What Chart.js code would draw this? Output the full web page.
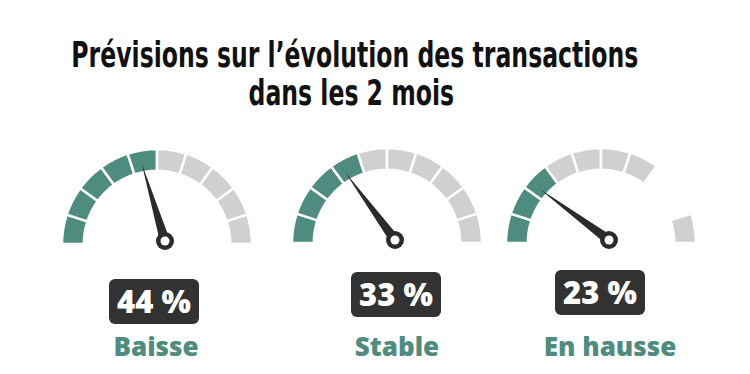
<!DOCTYPE html>
<html>
<head>
<meta charset="utf-8">
<script src="https://cdn.jsdelivr.net/npm/chart.js@4.4.1/dist/chart.umd.min.js"></script>
<style>
  html, body { margin:0; padding:0; background:#fff; }
  body { width:750px; height:374px; position:relative; overflow:hidden; }
  .title { position:absolute; left:-24px; width:750px; text-align:center; color:#111;
           font-family:"Liberation Sans Narrow","DejaVu Sans Condensed","DejaVu Sans",sans-serif;
           font-stretch:condensed; font-weight:bold; font-size:35px; line-height:35px; white-space:nowrap; }
  .title span { display:inline-block; transform-origin:center center; }
  .gauge { position:absolute; width:200px; height:120px; }
  .box { position:absolute; background:#323232; color:#fff; border-radius:6px; text-align:center;
         font-family:"Open Sans",sans-serif; font-weight:800; font-size:31px; }
  .lbl { position:absolute; color:#4d8c7f; text-align:center; white-space:nowrap;
         font-family:"Open Sans",sans-serif; font-weight:800; font-size:26px; }
</style>
</head>
<body>
<div class="title" id="t1" style="top:38px"><span></span></div>
<div class="title" id="t2" style="top:76px"><span></span></div>
<script>
// ---- data ----
const titleLines = ["Prévisions sur l’évolution des transactions", "dans les 2 mois"];
const categories = ["Baisse", "Stable", "En hausse"];
const percentages = [44, 33, 23];
const segments = [1, 1, 1, 1, 1, 1, 1, 1, 1, 1];
const blankSegments = [[], [], [7, 8]];

// ---- layout / style ----
const gaugeCenters = [[157, 244], [387, 243], [601, 243]];
const boxLayout = [[154, 279], [396, 272], [600, 270]];
const labelLayout = [[156, 328], [397, 328], [610, 328]];
const TEAL = "#4e8c7f", GREY = "#d0d0d0", DARK = "#2b2b2b";

document.querySelector("#t1 span").textContent = titleLines[0];
document.querySelector("#t2 span").textContent = titleLines[1];
const s1 = document.querySelector("#t1 span");
const s2 = document.querySelector("#t2 span");
const scale = 567 / s1.getBoundingClientRect().width;
s1.style.transform = "scaleX(" + scale + ")";
s2.style.transform = "scaleX(" + scale + ")";

const needlePlugin = {
  id: "needle",
  afterDatasetsDraw(chart, args, opts) {
    const meta = chart.getDatasetMeta(0);
    const first = meta.data[0], last = meta.data[meta.data.length - 1];
    const p0 = first.getProps(["x", "y", "startAngle", "outerRadius", "innerRadius"], true);
    const pl = last.getProps(["endAngle"], true);
    const ang = p0.startAngle + (opts.value / 100) * (pl.endAngle - p0.startAngle);
    const tipR = p0.innerRadius + 9;
    const tx = p0.x + Math.cos(ang) * tipR, ty = p0.y + Math.sin(ang) * tipR;
    const px = p0.x + opts.dx, py = p0.y + opts.dy;
    const ddx = tx - px, ddy = ty - py, len = Math.hypot(ddx, ddy);
    const nx = -ddy / len, ny = ddx / len, hw = 5;
    const ctx = chart.ctx;
    ctx.save();
    ctx.fillStyle = DARK;
    ctx.beginPath();
    ctx.moveTo(tx, ty);
    ctx.lineTo(px + nx * hw, py + ny * hw);
    ctx.lineTo(px - nx * hw, py - ny * hw);
    ctx.closePath();
    ctx.fill();
    ctx.beginPath();
    ctx.arc(px, py, 9, 0, Math.PI * 2);
    ctx.fill();
    ctx.fillStyle = "#fff";
    ctx.beginPath();
    ctx.arc(px, py, 4.5, 0, Math.PI * 2);
    ctx.fill();
    ctx.restore();
  }
};

percentages.forEach((p, i) => {
  const [cx, cy] = gaugeCenters[i];
  const div = document.createElement("div");
  div.className = "gauge";
  div.style.left = (cx - 100) + "px";
  div.style.top = (cy - 100) + "px";
  const cv = document.createElement("canvas");
  div.appendChild(cv);
  document.body.appendChild(div);
  const filled = Math.ceil(p / 10);
  const colors = segments.map((s, k) =>
    blankSegments[i].includes(k) ? "rgba(0,0,0,0)" : (k < filled ? TEAL : GREY));
  new Chart(cv, {
    type: "doughnut",
    data: { labels: segments.map((s, k) => String(k)),
            datasets: [{ data: segments, backgroundColor: colors, borderColor: "#fff", borderWidth: 2.5 }] },
    options: {
      responsive: true, maintainAspectRatio: false, animation: false, events: [],
      rotation: -90, circumference: 180, radius: 95, cutout: "77%",
      layout: { padding: { left: 5, right: 5, top: 5, bottom: 20 } },
      plugins: { legend: { display: false }, tooltip: { enabled: false },
                 needle: { value: p, dx: 8, dy: -3 } }
    },
    plugins: [needlePlugin]
  });

  const box = document.createElement("div");
  box.className = "box";
  box.textContent = p + " %";
  box.style.left = (boxLayout[i][0] - 45) + "px";
  box.style.top = boxLayout[i][1] + "px";
  box.style.width = "90px";
  box.style.height = "45px";
  box.style.lineHeight = "45px";
  document.body.appendChild(box);

  const lbl = document.createElement("div");
  lbl.className = "lbl";
  lbl.textContent = categories[i];
  lbl.style.left = (labelLayout[i][0] - 100) + "px";
  lbl.style.width = "200px";
  lbl.style.top = labelLayout[i][1] + "px";
  document.body.appendChild(lbl);
});
</script>
</body>
</html>
